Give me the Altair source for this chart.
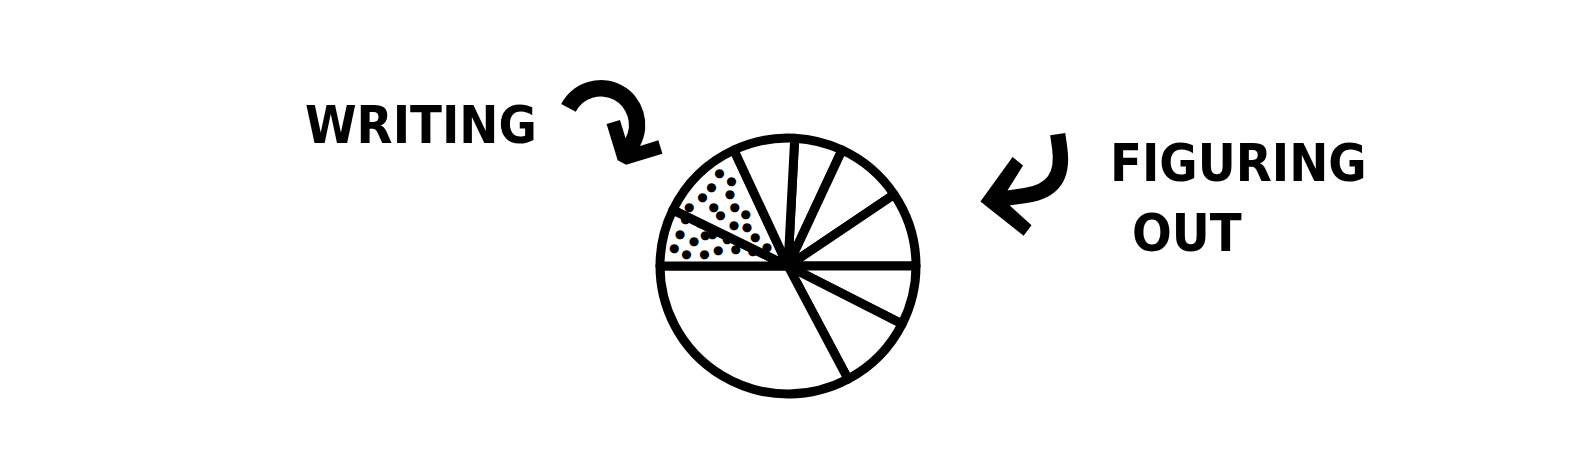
import math

import altair as alt
import pandas as pd

# slices of the pie, clockwise from the first spoke near 12 o'clock (degrees)
slice_degrees = [22, 31, 34, 27, 35, 118, 26, 39, 28]
slice_kind = ['figuring', 'figuring', 'figuring', 'figuring', 'figuring',
              'figuring', 'writing', 'writing', 'figuring']
first_spoke = 3

# dots of the shaded "writing" wedge: angle (deg, clockwise from top), radius share
dot_angle = [323.5, 326.5, 321.0, 316.0, 309.0, 308.3, 317.8, 320.7, 301.0,
             294.5, 296.0, 293.0, 306.9, 307.2, 313.3, 286.6, 284.8, 290.3,
             294.0, 311.4, 279.0, 277.0, 278.3, 283.2, 288.1, 293.6, 311.4]
dot_radius = [0.90, 0.80, 0.72, 0.86, 0.86, 0.74, 0.62, 0.52, 0.90,
              0.88, 0.76, 0.64, 0.66, 0.53, 0.44, 0.88, 0.76, 0.69,
              0.52, 0.34, 0.90, 0.80, 0.66, 0.56, 0.43, 0.30, 0.22]

labels = ['WRITING', 'FIGURING', 'OUT']

R = 128
FONT = 'DejaVu Sans Condensed, Liberation Sans'

pie_df = pd.DataFrame({'deg': slice_degrees, 'kind': slice_kind,
                       'order': range(len(slice_degrees))})
dots_df = pd.DataFrame({'angle': dot_angle, 'r': dot_radius})

start = math.radians(first_spoke)
pie = alt.Chart(pie_df).mark_arc(
    outerRadius=R, stroke='black', strokeWidth=9, strokeJoin='round',
    fill='white'
).encode(
    theta=alt.Theta('deg:Q', stack=True,
                    scale=alt.Scale(range=[start, start + 2 * math.pi])),
    order=alt.Order('order:Q')
)

dots = alt.Chart(dots_df).mark_text(
    text='●', fontSize=12, color='black', font='DejaVu Sans'
).encode(
    theta=alt.Theta('angle:Q', scale=alt.Scale(domain=[0, 360],
                                               range=[0, 2 * math.pi])),
    radius=alt.Radius('r:Q', scale=alt.Scale(type='linear', domain=[0, 1],
                                             range=[0, R]))
)


def label(text, x, y, size):
    return alt.Chart(pd.DataFrame({'t': [text]})).mark_text(
        x=x, y=y, align='left', baseline='alphabetic', font=FONT,
        fontWeight='bold', fontSize=size, color='black'
    ).encode(text='t:N')


def arrow(glyph, x, y, size, angle=0):
    return alt.Chart(pd.DataFrame({'t': [glyph]})).mark_text(
        x=x, y=y, align='center', baseline='middle', font='DejaVu Sans',
        fontWeight='bold', fontSize=size, color='black', angle=angle
    ).encode(text='t:N')


chart = alt.layer(
    pie, dots,
    label(labels[0], 289, 65, 52),
    label(labels[1], 1094, 103, 52),
    label(labels[2], 1116, 173, 52),
    arrow('↷', 590, 60, 140, 28),
    arrow('⤶', 1010, 98, 175, 352),
).resolve_scale(
    theta='independent', radius='independent'
).properties(
    width=1544, height=376,
    autosize=alt.AutoSizeParams(type='none'),
    padding={'left': 8, 'top': 70, 'right': 0, 'bottom': 0}
).configure_view(
    stroke=None
)

chart.save("out.html", embed_options={"renderer": "svg", "actions": False})
